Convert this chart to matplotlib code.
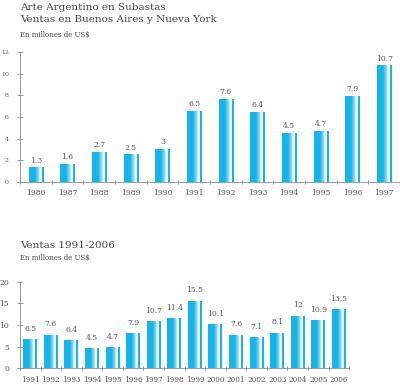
import numpy as np
import matplotlib
matplotlib.use("Agg")
import matplotlib.pyplot as plt
from matplotlib.colors import LinearSegmentedColormap

# top chart: 1986-1997
years_a = ["1986", "1987", "1988", "1989", "1990", "1991", "1992", "1993", "1994", "1995", "1996", "1997"]
sales_a = [1.3, 1.6, 2.7, 2.5, 3, 6.5, 7.6, 6.4, 4.5, 4.7, 7.9, 10.7]
labels_a = ["1.3", "1.6", "2.7", "2.5", "3", "6.5", "7.6", "6.4", "4.5", "4.7", "7.9", "10.7"]

# bottom chart: 1991-2006
years_b = [str(y) for y in range(1991, 2007)]
sales_b = [6.5, 7.6, 6.4, 4.5, 4.7, 7.9, 10.7, 11.4, 15.5, 10.1, 7.6, 7.1, 8.1, 12, 10.9, 13.5]
labels_b = ["6.5", "7.6", "6.4", "4.5", "4.7", "7.9", "10.7", "11.4", "15.5", "10.1", "7.6", "7.1", "8.1", "12", "10.9", "13.5"]

CYAN = "#16b4e8"
TXT = "#555555"
AXC = "#8a8a8a"
SERIF = ["DejaVu Serif"]

bar_cmap = LinearSegmentedColormap.from_list(
    "shine",
    [(0.0, CYAN), (0.40, CYAN), (0.62, "#7fd6f3"), (0.76, "#eefafe"),
     (0.84, "#ffffff"), (0.86, "#ffffff"), (0.88, CYAN), (1.0, CYAN)])
grad = np.linspace(0, 1, 128).reshape(1, -1)


def gradient_bars(ax, values, width):
    for i, v in enumerate(values):
        ax.imshow(grad, cmap=bar_cmap, aspect="auto", interpolation="nearest",
                  extent=(i - width / 2, i + width / 2, 0, v), zorder=2)


def style_axes(ax, n, ymax, yticks):
    ax.set_xlim(-0.5, n - 0.5)
    ax.set_ylim(0, ymax)
    for s in ["top", "right"]:
        ax.spines[s].set_visible(False)
    for s in ["left", "bottom"]:
        ax.spines[s].set_color(AXC)
        ax.spines[s].set_linewidth(0.6)
    ax.set_yticks(yticks)
    ax.set_xticks(np.arange(n))
    ax.set_xticks(np.arange(n + 1) - 0.5, minor=True)
    ax.tick_params(axis="x", which="major", length=0)
    ax.tick_params(axis="x", which="minor", length=3, direction="inout",
                   color=AXC, width=0.6)
    ax.tick_params(axis="y", length=4, direction="inout", color=AXC, width=0.6,
                   labelcolor=TXT)


fig = plt.figure(figsize=(4.0, 3.85), dpi=100)

# top chart
ax1 = fig.add_axes([0.05, 0.527, 0.95, 0.338])
gradient_bars(ax1, sales_a, 0.45)
style_axes(ax1, len(years_a), 12, [0, 2, 4, 6, 8, 10, 12])
ax1.set_xticklabels(years_a, fontsize=5.5, color=TXT, family=SERIF)
ax1.set_yticklabels([str(t) for t in [0, 2, 4, 6, 8, 10, 12]], fontsize=4.5, family=SERIF)
ax1.tick_params(axis="x", pad=5)
ax1.tick_params(axis="y", pad=6)
for i, (v, lab) in enumerate(zip(sales_a, labels_a)):
    ax1.annotate(lab, (i, v), xytext=(0, 2.5), textcoords="offset points",
                 ha="center", va="bottom", fontsize=5.5, color=TXT, family=SERIF)

# bottom chart
ax2 = fig.add_axes([0.05, 0.044, 0.823, 0.224])
gradient_bars(ax2, sales_b, 0.68)
style_axes(ax2, len(years_b), 20, [0, 5, 10, 15, 20])
ax2.set_xticklabels(years_b, fontsize=5.2, color=TXT, family=SERIF)
ax2.set_yticklabels([str(t) for t in [0, 5, 10, 15, 20]], fontsize=5.5, family=SERIF)
ax2.tick_params(axis="x", pad=6)
ax2.tick_params(axis="y", pad=6)
for i, (v, lab) in enumerate(zip(sales_b, labels_b)):
    ax2.annotate(lab, (i, v), xytext=(0, 5), textcoords="offset points",
                 ha="center", va="bottom", fontsize=5.5, color=TXT, family=SERIF)

# titles
fig.text(0.05, 1 - 7 / 385, "Arte Argentino en Subastas", fontsize=7.5,
         color="#444444", family=SERIF, va="center")
fig.text(0.05, 1 - 20 / 385, "Ventas en Buenos Aires y Nueva York", fontsize=7.5,
         color="#444444", family=SERIF, va="center")
fig.text(0.05, 1 - 35 / 385, "En millones de US$", fontsize=5, color="#444444",
         family=SERIF, va="center")
fig.text(0.05, 1 - 246 / 385, "Ventas 1991-2006", fontsize=7.5,
         color="#444444", family=SERIF, va="center")
fig.text(0.05, 1 - 258 / 385, "En millones de US$", fontsize=5, color="#444444",
         family=SERIF, va="center")

fig.savefig("out.png", dpi=100)
